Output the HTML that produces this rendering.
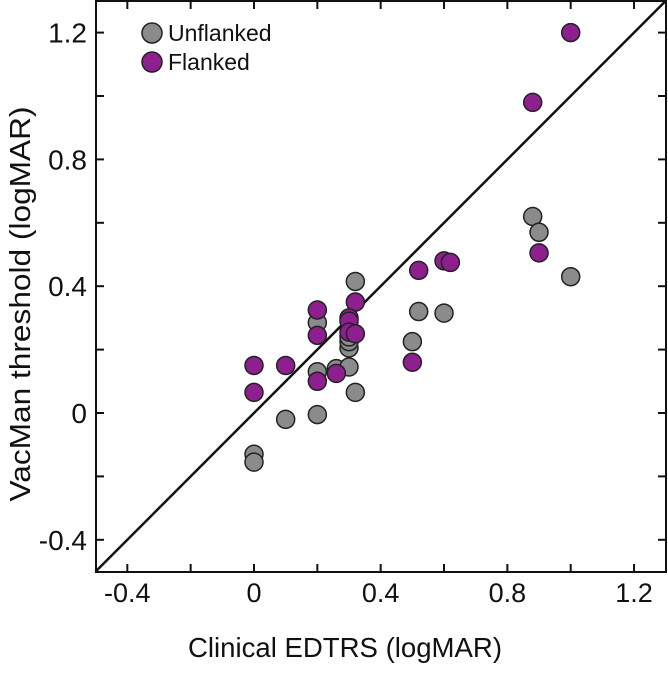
<!DOCTYPE html>
<html><head><meta charset="utf-8"><style>
body{margin:0;background:#fff;}
svg text{font-family:"Liberation Sans",Arial,sans-serif;fill:#111;}
</style></head><body>
<svg id="chart" width="668" height="669" viewBox="0 0 668 669" xmlns="http://www.w3.org/2000/svg">
<g id="axes"></g><g id="marks"></g><g id="legend"></g>
</svg>
<script>
const unflankedX=[0,0,0.1,0.2,0.2,0.2,0.26,0.3,0.32,0.32,0.3,0.3,0.3,0.5,0.52,0.6,0.88,0.9,1.0];
const unflankedY=[-0.13,-0.155,-0.02,-0.005,0.13,0.285,0.14,0.145,0.065,0.415,0.205,0.225,0.24,0.225,0.32,0.315,0.62,0.57,0.43];
const flankedX=[0,0,0.1,0.2,0.2,0.2,0.26,0.32,0.3,0.3,0.3,0.32,0.5,0.52,0.6,0.62,0.88,0.9,1.0];
const flankedY=[0.15,0.065,0.15,0.325,0.245,0.1,0.125,0.35,0.3,0.29,0.255,0.25,0.16,0.45,0.48,0.475,0.98,0.505,1.2];
const tickVals=[-0.4,0,0.4,0.8,1.2];
const tickLabels=["-0.4","0","0.4","0.8","1.2"];
const minorTicks=[-0.4,-0.2,0,0.2,0.4,0.6,0.8,1.0,1.2];
const L=96,R=666,T=1,B=572;
const xs=v=>254+v*316.7, ys=v=>413-v*317;
const NS="http://www.w3.org/2000/svg";
function mk(tag,attrs,parent){const e=document.createElementNS(NS,tag);for(const k in attrs)e.setAttribute(k,attrs[k]);parent.appendChild(e);return e;}
const axes=document.getElementById('axes'),marks=document.getElementById('marks'),leg=document.getElementById('legend');
const frame=mk('rect',{x:L,y:T,width:R-L,height:B-T,fill:'none',stroke:'#111','stroke-width':2},axes);

minorTicks.forEach(v=>{
 const x=xs(v),y=ys(v);
 let t=mk('line',{x1:x,x2:x,y1:B,y2:B-8,stroke:'#111','stroke-width':2},axes);
 
 t=mk('line',{x1:x,x2:x,y1:T,y2:T+8,stroke:'#111','stroke-width':2},axes);
 
 t=mk('line',{x1:L,x2:L+8,y1:y,y2:y,stroke:'#111','stroke-width':2},axes);
 
 t=mk('line',{x1:R-8,x2:R,y1:y,y2:y,stroke:'#111','stroke-width':2},axes);
 
});
tickVals.forEach((v,i)=>{
 let t=mk('text',{x:xs(v),y:602,'font-size':27,'text-anchor':'middle'},axes);t.textContent=tickLabels[i];
 
 t=mk('text',{x:87,y:ys(v)+10,'font-size':28,'text-anchor':'end'},axes);t.textContent=tickLabels[i];
 
});
let xt=mk('text',{x:345,y:657,'font-size':27.5,'text-anchor':'middle',textLength:314,lengthAdjust:'spacingAndGlyphs'},axes);xt.textContent='Clinical EDTRS (logMAR)';

let yt=mk('text',{x:0,y:0,'font-size':29,'text-anchor':'middle',textLength:395,lengthAdjust:'spacingAndGlyphs',transform:'translate(30,304) rotate(-90)'},axes);yt.textContent='VacMan threshold (logMAR)';

const diag=mk('line',{x1:xs(-0.5),y1:ys(-0.5),x2:xs(1.3),y2:ys(1.3),stroke:'#111','stroke-width':2.5},marks);

unflankedX.forEach((v,i)=>{
 const c=mk('circle',{cx:xs(v),cy:ys(unflankedY[i]),r:9,fill:'#8a8b8d',stroke:'#222','stroke-width':1.5},marks);
 
});
flankedX.forEach((v,i)=>{
 const c=mk('circle',{cx:xs(v),cy:ys(flankedY[i]),r:9,fill:'#8e1f8f',stroke:'#222','stroke-width':1.5},marks);
 
});
let lc=mk('circle',{cx:152,cy:33,r:10,fill:'#8a8b8d',stroke:'#222','stroke-width':1.5},leg);

let lt=mk('text',{x:168,y:41,'font-size':23},leg);lt.textContent='Unflanked';

lc=mk('circle',{cx:152,cy:62,r:10,fill:'#8e1f8f',stroke:'#222','stroke-width':1.5},leg);

lt=mk('text',{x:168,y:70,'font-size':23},leg);lt.textContent='Flanked';

</script>
</body></html>
